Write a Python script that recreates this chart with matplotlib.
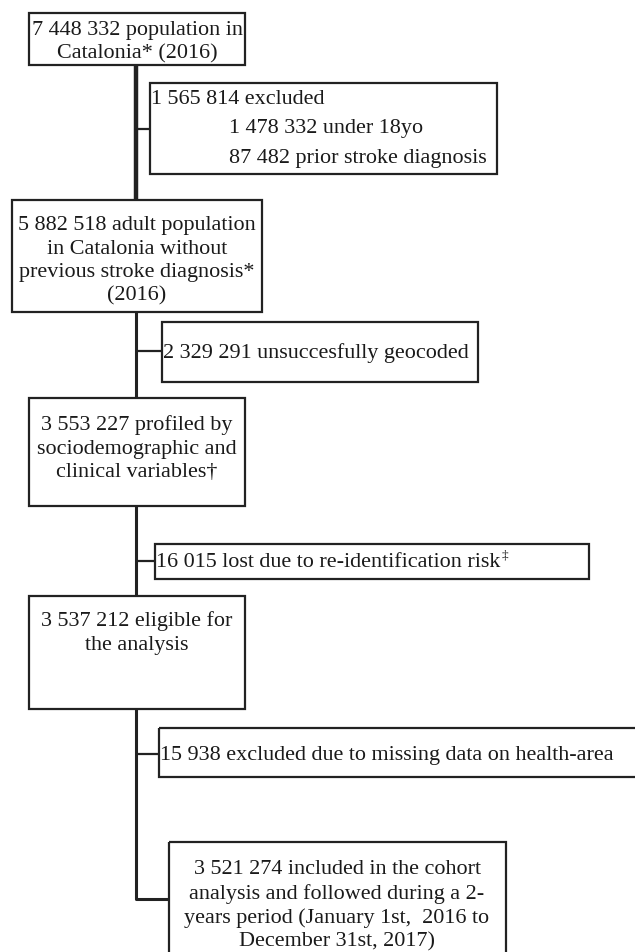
import matplotlib
matplotlib.use("Agg")
import matplotlib.pyplot as plt
from matplotlib.patches import Rectangle

# ---- content ----
main_texts = [
    "7 448 332 population in\nCatalonia* (2016)",
    "5 882 518 adult population\nin Catalonia without\nprevious stroke diagnosis*\n(2016)",
    "3 553 227 profiled by\nsociodemographic and\nclinical variables\u2020",
    "3 537 212 eligible for\nthe analysis",
    "3 521 274 included in the cohort\nanalysis and followed during a 2-\nyears period (January 1st,  2016 to\nDecember 31st, 2017)",
]
excl_head = ["1 565 814 excluded", "2 329 291 unsuccesfully geocoded",
             "16 015 lost due to re-identification risk",
             "15 938 excluded due to missing data on health-area"]
excl_sub = ["1 478 332 under 18yo", "87 482 prior stroke diagnosis"]
footmark = "\u2021"

W, H = 635, 953
fig = plt.figure(figsize=(W / 100, H / 100), dpi=100)
ax = fig.add_axes([0, 0, 1, 1])
ax.set_xlim(0, W)
ax.set_ylim(H, 0)
ax.axis("off")

FS = 15.9
FONT = dict(family="Liberation Serif", fontsize=FS, color="#1a1a1a")
EC = "#222222"
LS = 1.32

def box(x0, y0, x1, y1, lw=1.6):
    ax.add_patch(Rectangle((x0, y0), x1 - x0, y1 - y0, fill=False,
                           ec=EC, lw=lw, zorder=3))

def line(xs, ys, lw=2.0):
    ax.plot(xs, ys, color=EC, lw=lw, solid_capstyle="butt", zorder=2)

# main boxes
box(29, 14, 245, 66)
ax.text(137, 42, main_texts[0], ha="center", va="center", linespacing=LS, **FONT)

box(12, 201, 262, 313)
ax.text(137, 261, main_texts[1], ha="center", va="center", linespacing=LS, **FONT)

box(29, 399, 245, 507)
ax.text(137, 449, main_texts[2], ha="center", va="center", linespacing=LS, **FONT)

box(29, 597, 245, 710)
ax.text(137, 633, main_texts[3], ha="center", va="center", linespacing=LS, **FONT)

box(169, 843, 506, 965)
ax.text(337, 906, main_texts[4], ha="center", va="center", linespacing=LS, **FONT)

# vertical connectors
line([136, 136], [66, 201], lw=3.2)
line([136, 136], [313, 399], lw=2.2)
line([136, 136], [507, 597], lw=2.2)
line([136, 136, 169], [710, 900, 900], lw=2.2)

# exclusion boxes
box(150, 84, 497, 175)
line([136, 150], [130, 130], lw=1.6)
ax.text(151, 99, excl_head[0], ha="left", va="center", **FONT)
ax.text(229, 129, excl_sub[0], ha="left", va="center", **FONT)
ax.text(229, 159, excl_sub[1], ha="left", va="center", **FONT)

box(162, 323, 478, 383)
line([136, 162], [352, 352], lw=1.6)
ax.text(163, 353, excl_head[1], ha="left", va="center", **FONT)

box(155, 545, 589, 580)
line([136, 155], [562, 562], lw=1.6)
t = ax.text(156, 563, excl_head[2], ha="left", va="center", **FONT)
fig.canvas.draw()
bb = t.get_window_extent()
xr = ax.transData.inverted().transform((bb.x1, bb.y0))[0]
ax.text(xr + 1, 556, footmark, ha="left", va="center",
        family="Liberation Serif", fontsize=FS * 0.6, color="#1a1a1a")

box(159, 729, 640, 778)
line([136, 159], [755, 755], lw=1.6)
ax.text(160, 756, excl_head[3], ha="left", va="center", **FONT)

fig.savefig("out.png", dpi=100, facecolor="white")
